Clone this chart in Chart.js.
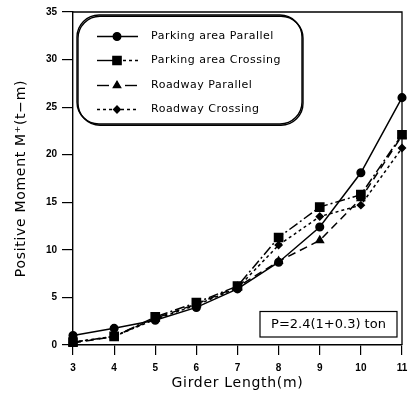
<!DOCTYPE html>
<html>
<head>
<meta charset="utf-8">
<script src="https://cdn.jsdelivr.net/npm/chart.js@4/dist/chart.umd.min.js"></script>
<style>
  html, body { margin: 0; padding: 0; background: #fff; }
  canvas { display: block; }
</style>
</head>
<body>
<canvas id="c" width="411" height="398"></canvas>
<script>
// Girder length (m)
const girderLength = [3, 4, 5, 6, 7, 8, 9, 10, 11];

// Positive moment M+ (t-m) for each loading case
const parkingParallel = [1.0, 1.75, 2.6, 3.95, 5.9, 8.7, 12.4, 18.1, 26.0];
const parkingCrossing = [0.3, 0.9, 2.95, 4.45, 6.2, 11.3, 14.5, 15.8, 22.1];
const roadwayParallel = [0.2, 0.9, 2.8, 4.3, 6.1, 8.8, 11.0, 15.4, 22.0];
const roadwayCrossing = [0.3, 0.9, 2.7, 4.2, 6.0, 10.5, 13.5, 14.7, 20.7];

const seriesNames = ['Parking area Parallel', 'Parking area Crossing', 'Roadway Parallel', 'Roadway Crossing'];
const yTicks = [0, 5, 10, 15, 20, 25, 30, 35];

const xTitle = 'Girder Length(m)';
const yTitle = 'Positive Moment M\u207A(t\u2212m)';
const loadNote = 'P=2.4(1+0.3) ton';

const pts = vals => girderLength.map((x, i) => ({ x: x, y: vals[i] }));

const common = {
  borderColor: '#000', backgroundColor: '#000',
  pointBorderColor: '#000', pointBackgroundColor: '#000',
  borderWidth: 1.5, tension: 0, clip: 10, fill: false
};

const datasets = [
  Object.assign({}, common, { label: seriesNames[0], data: pts(parkingParallel), borderDash: [], pointStyle: 'circle', pointRadius: 3.8 }),
  Object.assign({}, common, { label: seriesNames[1], data: pts(parkingCrossing), borderDash: [10, 3, 2, 3], pointStyle: 'rect', pointRadius: 5.8 }),
  Object.assign({}, common, { label: seriesNames[2], data: pts(roadwayParallel), borderDash: [8, 5], pointStyle: 'triangle', pointRadius: 4.2 }),
  Object.assign({}, common, { label: seriesNames[3], data: pts(roadwayCrossing), borderDash: [3, 3], pointStyle: 'rectRot', pointRadius: 3.4 })
];

// legend key strokes: [x0, x1, dash] pieces for each row
const legendKeys = [
  [[97, 138, []]],
  [[97, 117, []], [117, 138, [3, 3]]],
  [[97, 109, []], [125, 137, []]],
  [[97, 138, [3, 3]]]
];

const tickFont = { family: '"Liberation Sans", Arial, sans-serif', size: 10, weight: 'bold' };

// Frame, legend box, load note and axis titles
const decor = {
  id: 'decor',
  afterDraw(chart) {
    const ctx = chart.ctx;
    const a = chart.chartArea;
    ctx.save();
    ctx.strokeStyle = '#000';
    ctx.fillStyle = '#000';

    // top and right borders of the plot frame
    ctx.lineWidth = 1.3;
    ctx.setLineDash([]);
    ctx.beginPath();
    ctx.moveTo(a.left, a.top);
    ctx.lineTo(a.right, a.top);
    ctx.lineTo(a.right, a.bottom);
    ctx.stroke();

    // rounded legend box with a heavier lower-right edge
    const bx = 77, by = 15, bw = 225, bh = 109, br = 22;
    ctx.lineWidth = 1.4;
    ctx.beginPath();
    ctx.roundRect(bx, by, bw, bh, br);
    ctx.stroke();
    ctx.beginPath();
    ctx.roundRect(bx + 1, by + 1.2, bw, bh, br);
    ctx.stroke();

    const rowsY = [36.5, 60.5, 85.5, 109.5];
    chart.data.datasets.forEach((ds, i) => {
      const y = rowsY[i];
      ctx.lineWidth = 1.4;
      legendKeys[i].forEach(([x0, x1, dash]) => {
        ctx.setLineDash(dash);
        ctx.beginPath();
        ctx.moveTo(x0, y);
        ctx.lineTo(x1, y);
        ctx.stroke();
      });
      ctx.setLineDash([]);
      Chart.helpers.drawPoint(ctx, { pointStyle: ds.pointStyle, radius: ds.pointRadius, borderWidth: 1 }, 117, y);
      ctx.fill();
      ctx.font = '11px "DejaVu Sans", sans-serif';
      ctx.letterSpacing = '0.5px';
      ctx.textAlign = 'left';
      ctx.textBaseline = 'middle';
      ctx.fillText(ds.label, 151, y);
    });

    // load note box
    ctx.letterSpacing = '0px';
    ctx.lineWidth = 1.2;
    ctx.strokeRect(260, 311.5, 137, 25.5);
    ctx.font = '13px "DejaVu Sans", sans-serif';
    ctx.textAlign = 'center';
    ctx.textBaseline = 'middle';
    ctx.fillText(loadNote, 328.5, 324.5);

    // axis titles
    ctx.font = '14px "DejaVu Sans", sans-serif';
    ctx.letterSpacing = '0.7px';
    ctx.fillText(xTitle, (a.left + a.right) / 2, 383);
    ctx.translate(21, (a.top + a.bottom) / 2);
    ctx.rotate(-Math.PI / 2);
    ctx.fillText(yTitle, 0, 0);
    ctx.restore();
  }
};

new Chart(document.getElementById('c'), {
  type: 'line',
  data: { datasets: datasets },
  plugins: [decor],
  options: {
    responsive: false,
    animation: false,
    devicePixelRatio: 1,
    layout: { padding: { top: 12, right: 9, left: 0, bottom: 0 } },
    plugins: { legend: { display: false }, tooltip: { enabled: false } },
    scales: {
      x: {
        type: 'linear', min: 3, max: 11,
        ticks: { stepSize: 1, color: '#000', font: tickFont, padding: 7, maxRotation: 0 },
        grid: { drawOnChartArea: false, color: '#000', tickLength: 10, lineWidth: 1.2 },
        border: { color: '#000', width: 1.4 },
        afterFit(s) { s.height = 53; s.paddingLeft = 0; s.paddingRight = 0; }
      },
      y: {
        min: 0, max: 35,
        afterBuildTicks(s) { s.ticks = yTicks.map(v => ({ value: v })); },
        ticks: { color: '#000', font: tickFont, padding: 5 },
        grid: { drawOnChartArea: false, color: '#000', tickLength: 11, lineWidth: 1.2 },
        border: { color: '#000', width: 1.4 },
        afterFit(s) { s.width = 73; s.paddingTop = 0; s.paddingBottom = 0; }
      }
    }
  }
});
</script>
</body>
</html>
